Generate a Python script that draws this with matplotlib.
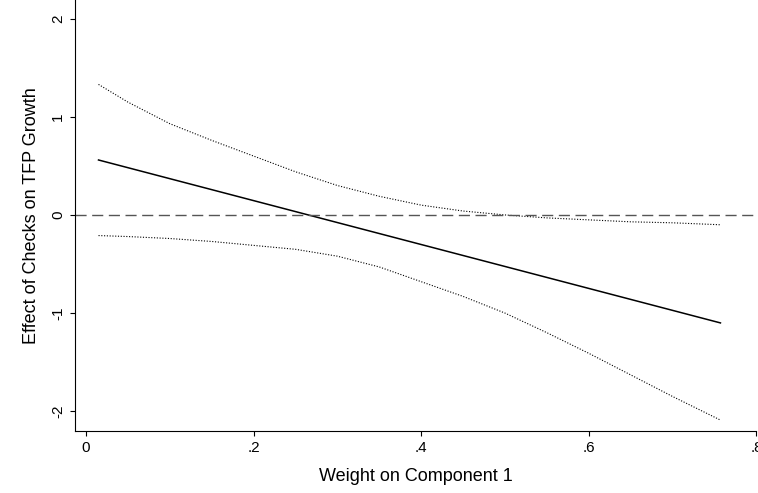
import numpy as np
import matplotlib
matplotlib.use("Agg")
import matplotlib.pyplot as plt

plt.rcParams['font.family'] = ['Liberation Sans', 'DejaVu Sans']

weight = [0.015, 0.05, 0.1, 0.15, 0.2, 0.25, 0.3, 0.35, 0.4, 0.45, 0.5,
          0.55, 0.6, 0.65, 0.7, 0.757]
effect_start, effect_end = 0.56, -1.10
upper = [1.33, 1.15, 0.93, 0.76, 0.60, 0.44, 0.30, 0.19, 0.10, 0.04, 0.00,
         -0.03, -0.05, -0.07, -0.08, -0.10]
lower = [-0.21, -0.22, -0.24, -0.27, -0.31, -0.35, -0.42, -0.53, -0.68, -0.83,
         -1.00, -1.20, -1.41, -1.63, -1.85, -2.09]

fig = plt.figure(figsize=(7.58, 4.93), dpi=100)
ax = fig.add_axes([0.099, 0.126, 0.899, 0.874])

ax.plot([weight[0], weight[-1]], [effect_start, effect_end], color="black", lw=1.1)
ax.plot(weight, upper, color="black", lw=0.8, ls=(0, (1, 1.5)))
ax.plot(weight, lower, color="black", lw=0.8, ls=(0, (1, 1.5)))
ax.axhline(0, color="#555555", lw=1.0, ls=(0, (8, 4)))

ax.set_xlim(-0.013, 0.8)
ax.set_ylim(-2.2, 2.19)
ax.set_xticks([0, 0.2, 0.4, 0.6, 0.8])
ax.set_xticklabels(["0", ".2", ".4", ".6", ".8"])
ax.set_yticks([-2, -1, 0, 1, 2])
ax.set_yticklabels(["-2", "-1", "0", "1", "2"], rotation=90, va="center")
ax.tick_params(labelsize=11)
for s in ["top", "right"]:
    ax.spines[s].set_visible(False)
ax.set_xlabel("Weight on Component 1", fontsize=13, labelpad=10)
ax.set_ylabel("Effect of Checks on TFP Growth", fontsize=13, labelpad=8)

fig.savefig("out.png")
